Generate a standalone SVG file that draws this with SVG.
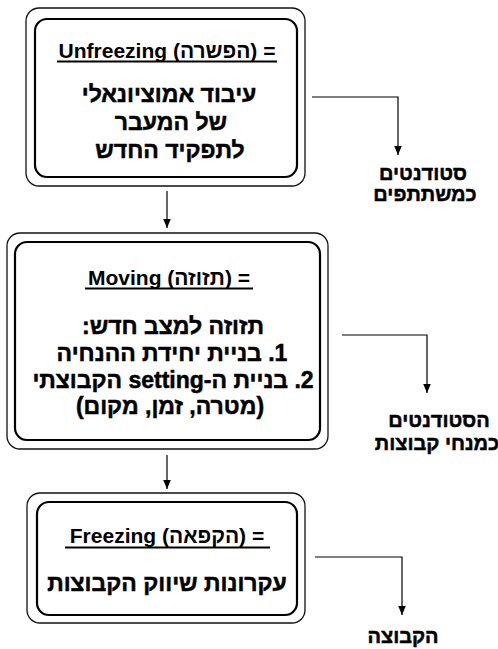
<svg xmlns="http://www.w3.org/2000/svg" width="498" height="649" viewBox="0 0 498 649">
<defs>
<marker id="ah" viewBox="0 0 10 10" refX="10" refY="5" markerWidth="10" markerHeight="9" markerUnits="userSpaceOnUse" orient="auto">
<path d="M0,0.8 L10,5 L0,9.2 Z" fill="#000"/>
</marker>
<style>
.outer{fill:#fff;stroke:#111;stroke-width:1.3}
.inner{fill:#fff;stroke:#000;stroke-width:2.2}
.title{font-family:"Liberation Sans Narrow","Liberation Sans",Arial,sans-serif;font-weight:bold;font-size:21px;fill:#000}
.body{font-family:"Liberation Sans",Arial,sans-serif;font-weight:bold;font-size:23px;fill:#000;stroke:#000;stroke-width:0.5}
.lab{font-family:"Liberation Sans",Arial,sans-serif;font-weight:bold;font-size:20px;fill:#000;stroke:#000;stroke-width:0.5}
.ul{stroke:#000;stroke-width:1.8}
.conn{fill:none;stroke:#000;stroke-width:1.2}
</style>
</defs>
<rect width="498" height="649" fill="#fff"/>
<g id="unfreezing">
<rect class="outer" x="26" y="8" width="279" height="178" rx="13"/>
<rect class="inner" x="35" y="19" width="262" height="158" rx="12"/>
<text class="title" x="167" y="58" text-anchor="middle">Unfreezing (הפשרה) =</text>
<line class="ul" x1="57" y1="61.5" x2="277" y2="61.5"/>
<text class="body" x="169" y="102" text-anchor="middle" direction="rtl">עיבוד אמוציונאלי</text>
<text class="body" x="171" y="130" text-anchor="middle" direction="rtl">של המעבר</text>
<text class="body" x="170" y="158" text-anchor="middle" direction="rtl">לתפקיד החדש</text>
</g>
<g id="moving">
<rect class="outer" x="7" y="233" width="321" height="216" rx="13"/>
<rect class="inner" x="15" y="242" width="305" height="198" rx="12"/>
<text class="title" x="169" y="285" text-anchor="middle">Moving (תזוזה) =</text>
<line class="ul" x1="85" y1="288.5" x2="253" y2="288.5"/>
<text class="body" x="173" y="334" text-anchor="middle" direction="rtl">תזוזה למצב חדש:</text>
<text class="body" x="172" y="361" text-anchor="middle" direction="rtl">1. בניית יחידת ההנחיה</text>
<text class="body" x="173" y="388" text-anchor="middle" direction="rtl">2. בניית ה-setting הקבוצתי</text>
<text class="body" x="170" y="414" text-anchor="middle" direction="rtl">(מטרה, זמן, מקום)</text>
</g>
<g id="freezing">
<rect class="outer" x="27" y="493" width="278" height="130" rx="13"/>
<rect class="inner" x="37" y="502" width="260" height="113" rx="12"/>
<text class="title" x="167" y="543" text-anchor="middle">Freezing (הקפאה) =</text>
<line class="ul" x1="65" y1="547.5" x2="270" y2="547.5"/>
<text class="body" x="167" y="591" text-anchor="middle" direction="rtl">עקרונות שיווק הקבוצות</text>
</g>
<g id="students-participants">
<text class="lab" x="423" y="180" text-anchor="middle" direction="rtl">סטודנטים</text>
<text class="lab" x="425" y="201" text-anchor="middle" direction="rtl">כמשתתפים</text>
</g>
<g id="students-facilitators">
<text class="lab" x="439" y="427" text-anchor="middle" direction="rtl">הסטודנטים</text>
<text class="lab" x="437" y="450" text-anchor="middle" direction="rtl" font-size="19">כמנחי קבוצות</text>
</g>
<g id="the-group">
<text class="lab" x="403" y="643" text-anchor="middle" direction="rtl">הקבוצה</text>
</g>
<g id="connectors">
<polyline class="conn" points="312,97 398,97 398,155" marker-end="url(#ah)"/>
<polyline class="conn" points="342,335 427,335 427,393" marker-end="url(#ah)"/>
<polyline class="conn" points="315,557 402,557 402,615" marker-end="url(#ah)"/>
<line class="conn" x1="167" y1="191" x2="167" y2="228" marker-end="url(#ah)"/>
<line class="conn" x1="167" y1="455" x2="167" y2="489" marker-end="url(#ah)"/>
</g>
</svg>
